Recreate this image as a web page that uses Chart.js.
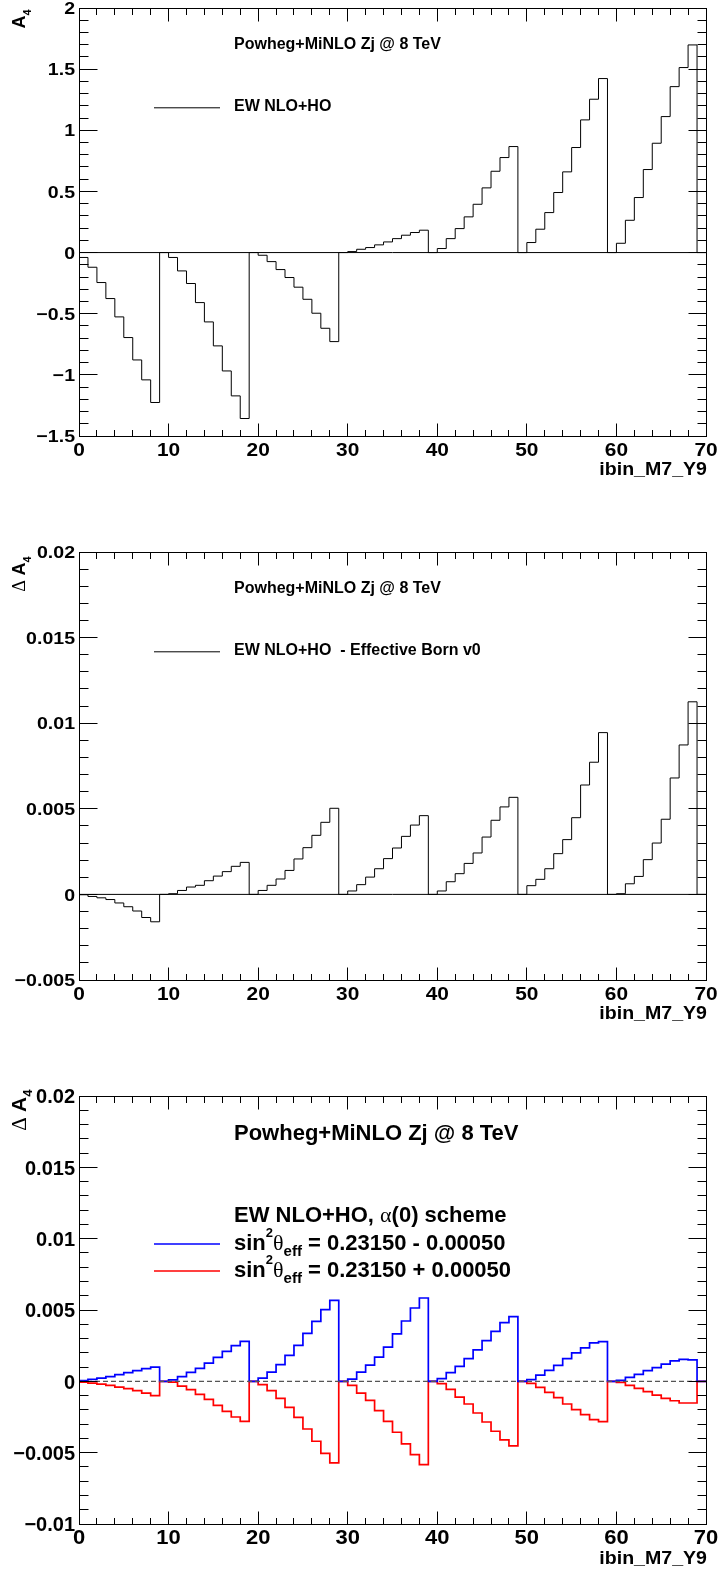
<!DOCTYPE html>
<html>
<head>
<meta charset="utf-8">
<script src="https://cdn.jsdelivr.net/npm/chart.js@4.4.1/dist/chart.umd.min.js"></script>
<style>
  html, body { margin: 0; padding: 0; background: #fff; }
  body { width: 719px; height: 1570px; position: relative; overflow: hidden; }
  .pad { position: absolute; left: 0; width: 719px; height: 482px; }
</style>
</head>
<body>
<div class="pad" style="top:0"><canvas id="pad1" width="719" height="482"></canvas></div>
<div class="pad" style="top:544px"><canvas id="pad2" width="719" height="482"></canvas></div>
<div class="pad" style="top:1088px"><canvas id="pad3" width="719" height="482"></canvas></div>
<script>
// 70 bins: 7 mass bins x 10 rapidity bins, last rapidity bin of each mass bin is empty
const xTicks = [0, 10, 20, 30, 40, 50, 60, 70];

// A4, EW NLO+HO
const a4Nominal = [
  -0.040, -0.120, -0.245, -0.376, -0.526, -0.695, -0.878, -1.041, -1.226, 0,
  -0.040, -0.150, -0.253, -0.409, -0.567, -0.763, -0.968, -1.172, -1.357, 0,
  -0.022, -0.074, -0.139, -0.204, -0.283, -0.382, -0.496, -0.619, -0.728, 0,
   0.008,  0.027,  0.041,  0.063,  0.087,  0.114,  0.142,  0.164,  0.183, 0,
   0.033,  0.114,  0.196,  0.292,  0.395,  0.529,  0.665,  0.777,  0.867, 0,
   0.082,  0.191,  0.327,  0.491,  0.660,  0.859,  1.085,  1.254,  1.423, 0,
   0.076,  0.264,  0.450,  0.679,  0.894,  1.112,  1.357,  1.513,  1.698, 0
];
const a4Ticks = [-1.5, -1, -0.5, 0, 0.5, 1, 1.5, 2];

// EW NLO+HO minus effective Born v0
const dA4Born = [
  -0.00002, -0.00012, -0.00020, -0.00030, -0.00050, -0.00072, -0.00097, -0.00135, -0.00160, 0,
   0.00004,  0.00023,  0.00043,  0.00053,  0.00080,  0.00107,  0.00133,  0.00164,  0.00187, 0,
   0.00023,  0.00053,  0.00090,  0.00140,  0.00207,  0.00273,  0.00345,  0.00421,  0.00503, 0,
   0.00020,  0.00057,  0.00101,  0.00150,  0.00209,  0.00271,  0.00339,  0.00405,  0.00460, 0,
   0.00020,  0.00074,  0.00121,  0.00181,  0.00242,  0.00335,  0.00433,  0.00511,  0.00567, 0,
   0.00051,  0.00088,  0.00150,  0.00238,  0.00320,  0.00448,  0.00639,  0.00772,  0.00945, 0,
   0.00004,  0.00062,  0.00105,  0.00203,  0.00300,  0.00439,  0.00680,  0.00873,  0.01125, 0
];
const dA4BornTicks = [-0.005, 0, 0.005, 0.01, 0.015, 0.02];

// sin2theta_eff shifted by -/+ 0.0005, alpha(0) scheme
const dA4SinMinus = [
  0.00005, 0.00014, 0.00023, 0.00033, 0.00047, 0.00061, 0.00075, 0.00089, 0.00100, 0,
  0.00010, 0.00033, 0.00063, 0.00091, 0.00128, 0.00168, 0.00210, 0.00250, 0.00280, 0,
  0.00023, 0.00065, 0.00117, 0.00182, 0.00252, 0.00336, 0.00420, 0.00502, 0.00568, 0,
  0.00016, 0.00065, 0.00114, 0.00170, 0.00240, 0.00332, 0.00423, 0.00514, 0.00584, 0,
  0.00019, 0.00061, 0.00105, 0.00159, 0.00220, 0.00285, 0.00350, 0.00411, 0.00453, 0,
  0.00012, 0.00044, 0.00077, 0.00112, 0.00159, 0.00199, 0.00234, 0.00269, 0.00278, 0,
  0.00007, 0.00028, 0.00049, 0.00075, 0.00096, 0.00121, 0.00143, 0.00154, 0.00150, 0
];
const dA4SinPlus = [
  -0.00005, -0.00012, -0.00020, -0.00028, -0.00040, -0.00051, -0.00065, -0.00082, -0.00100, 0,
  -0.00005, -0.00033, -0.00058, -0.00091, -0.00126, -0.00168, -0.00210, -0.00250, -0.00280, 0,
  -0.00023, -0.00065, -0.00119, -0.00182, -0.00252, -0.00334, -0.00420, -0.00505, -0.00572, 0,
  -0.00028, -0.00082, -0.00133, -0.00206, -0.00280, -0.00357, -0.00439, -0.00514, -0.00584, 0,
  -0.00016, -0.00056, -0.00110, -0.00159, -0.00222, -0.00285, -0.00350, -0.00411, -0.00453, 0,
  -0.00014, -0.00042, -0.00077, -0.00114, -0.00159, -0.00199, -0.00234, -0.00269, -0.00283, 0,
  -0.00007, -0.00028, -0.00049, -0.00072, -0.00096, -0.00119, -0.00136, -0.00152, -0.00152, 0
];
const dA4SinTicks = [-0.01, -0.005, 0, 0.005, 0.01, 0.015, 0.02];

const BOLD = px => `bold ${px}px "Liberation Sans", Arial, Helvetica, sans-serif`;
const GREEK = px => `${px}px "Liberation Serif", "DejaVu Serif", serif`;

// left bin edges + closing point at the upper edge, drawn as step-before
function histPoints(vals) {
  const pts = vals.map((v, i) => ({ x: i, y: v }));
  pts.push({ x: vals.length, y: vals[vals.length - 1] });
  return pts;
}

function fmt(v) {
  return String(parseFloat(v.toFixed(4))).replace('-', '\u2212');
}

function partsWidth(ctx, parts) {
  let w = 0;
  for (const p of parts) { ctx.font = p.font; w += ctx.measureText(p.t).width; }
  return w;
}
function drawParts(ctx, parts, x, y) {
  let cx = x;
  for (const p of parts) {
    ctx.font = p.font;
    ctx.fillText(p.t, cx, y + (p.dy || 0));
    cx += ctx.measureText(p.t).width;
  }
}
// axis labels come out a little wider than the font's own proportions
function wideText(ctx, text, x, y, sx) {
  ctx.save();
  ctx.translate(x, y);
  ctx.scale(sx, 1);
  ctx.fillText(text, 0, 0);
  ctx.restore();
}

// frame, inward ticks on all four sides, labels, titles and legend
const rootPad = {
  id: 'rootPad',
  afterDatasetsDraw(chart, args, o) {
    const { ctx, chartArea: a, scales: { x, y } } = chart;
    const crisp = v => Math.floor(v) + 0.5;
    const L = crisp(a.left), R = crisp(a.right), T = crisp(a.top), B = crisp(a.bottom);
    ctx.save();

    const y0 = y.getPixelForValue(0);
    ctx.strokeStyle = o.zeroColor;
    ctx.lineWidth = o.zeroWidth;
    ctx.setLineDash(o.zeroDash);
    ctx.beginPath(); ctx.moveTo(a.left, y0); ctx.lineTo(a.right, y0); ctx.stroke();
    ctx.setLineDash([]);

    ctx.strokeStyle = '#000';
    ctx.lineWidth = 1;
    ctx.strokeRect(L, T, R - L, B - T);

    ctx.beginPath();
    const xt = x.ticks.map(t => t.value);
    const xs = (xt[1] - xt[0]) / 5;
    for (const m of xt) for (let k = 0; k < 5; k++) {
      const v = m + k * xs;
      if (v > x.max + 1e-9) break;
      const px = crisp(x.getPixelForValue(v)), len = k ? 6.5 : 13;
      ctx.moveTo(px, B); ctx.lineTo(px, B - len);
      ctx.moveTo(px, T); ctx.lineTo(px, T + len);
    }
    const yt = y.ticks.map(t => t.value);
    const ys = (yt[1] - yt[0]) / 5;
    for (const m of yt) for (let k = 0; k < 5; k++) {
      const v = m + k * ys;
      if (v > y.max + 1e-12) break;
      const py = crisp(y.getPixelForValue(v)), len = k ? 9 : 18;
      ctx.moveTo(L, py); ctx.lineTo(L + len, py);
      ctx.moveTo(R, py); ctx.lineTo(R - len, py);
    }
    ctx.stroke();

    ctx.fillStyle = '#000';
    ctx.textBaseline = 'alphabetic';
    ctx.textAlign = 'center';
    ctx.font = BOLD(o.xLabelSize);
    for (const t of x.ticks) wideText(ctx, fmt(t.value), x.getPixelForValue(t.value), a.bottom + o.xLabelDy, o.xLabelSx);
    ctx.textAlign = 'right';
    ctx.font = BOLD(o.yLabelSize);
    for (const t of y.ticks) wideText(ctx, fmt(t.value), a.left - 4, y.getPixelForValue(t.value) + 0.36 * o.yLabelSize, o.yLabelSx);

    ctx.font = BOLD(o.xTitleSize);
    wideText(ctx, o.xTitle, a.right + 1, a.bottom + o.xTitleDy, 1.03);

    // axis title along y, right-aligned at the top end
    ctx.textAlign = 'left';
    ctx.save();
    ctx.translate(o.yTitleX, a.top + o.yTitleEnd);
    ctx.rotate(-Math.PI / 2);
    drawParts(ctx, o.yTitle, -partsWidth(ctx, o.yTitle), 0);
    ctx.restore();

    drawParts(ctx, o.title, o.textX, a.top + o.titleDy);
    for (const row of o.legend) {
      if (row.color) {
        ctx.strokeStyle = row.color;
        ctx.lineWidth = row.width;
        ctx.beginPath();
        ctx.moveTo(154, a.top + row.lineDy);
        ctx.lineTo(220, a.top + row.lineDy);
        ctx.stroke();
      }
      drawParts(ctx, row.parts, o.textX, a.top + row.textDy);
    }
    ctx.restore();
  }
};

function makePad(id, series, yMin, yMax, yTicks, style) {
  return new Chart(document.getElementById(id), {
    type: 'line',
    data: {
      datasets: series.map(s => ({
        data: histPoints(s.values),
        borderColor: s.color,
        borderWidth: s.width,
        stepped: 'before',
        pointRadius: 0,
        fill: false,
        tension: 0
      }))
    },
    options: {
      responsive: false,
      animation: false,
      events: [],
      layout: { padding: { top: 8, right: 13, left: 0, bottom: 0 } },
      plugins: { legend: { display: false }, tooltip: { enabled: false }, rootPad: style },
      scales: {
        x: {
          type: 'linear', min: 0, max: 70,
          grid: { display: false }, border: { display: false }, ticks: { display: false },
          afterBuildTicks: s => { s.ticks = xTicks.map(v => ({ value: v })); },
          afterFit: s => { s.height = 46; }
        },
        y: {
          type: 'linear', min: yMin, max: yMax,
          grid: { display: false }, border: { display: false }, ticks: { display: false },
          afterBuildTicks: s => { s.ticks = yTicks.map(v => ({ value: v })); },
          afterFit: s => { s.width = 79; }
        }
      }
    },
    plugins: [rootPad]
  });
}

const smallTitle = [{ t: 'Powheg+MiNLO Zj @ 8 TeV', font: BOLD(16) }];
const common = {
  xTitle: 'ibin_M7_Y9', textX: 234,
  zeroColor: '#000', zeroWidth: 1, zeroDash: [],
  xLabelSize: 19, xLabelSx: 1.1, xLabelDy: 19.5,
  yLabelSize: 17, yLabelSx: 1.15,
  xTitleSize: 19, xTitleDy: 38.5,
  yTitleX: 25, titleDy: 40.8
};

makePad('pad1', [{ values: a4Nominal, color: '#000', width: 1 }], -1.5, 2, a4Ticks, Object.assign({}, common, {
  yTitle: [{ t: 'A', font: BOLD(18) }, { t: '4', font: BOLD(11), dy: 6 }],
  yTitleEnd: 1.5,
  title: smallTitle,
  legend: [{ color: '#000', width: 1, lineDy: 99.8, textDy: 103.2, parts: [{ t: 'EW NLO+HO', font: BOLD(16) }] }]
}));

makePad('pad2', [{ values: dA4Born, color: '#000', width: 1 }], -0.005, 0.02, dA4BornTicks, Object.assign({}, common, {
  yTitle: [{ t: '\u0394 ', font: GREEK(18) }, { t: 'A', font: BOLD(18) }, { t: '4', font: BOLD(11), dy: 6 }],
  yTitleEnd: 4.5,
  title: smallTitle,
  legend: [{ color: '#000', width: 1, lineDy: 99.8, textDy: 103.2, parts: [{ t: 'EW NLO+HO  - Effective Born v0', font: BOLD(16) }] }]
}));

const sinParts = tail => [
  { t: 'sin', font: BOLD(22) }, { t: '2', font: BOLD(13), dy: -13 },
  { t: '\u03b8', font: GREEK(22) }, { t: 'eff', font: BOLD(15), dy: 6 },
  { t: tail, font: BOLD(22) }
];

makePad('pad3', [
  { values: dA4SinMinus, color: '#0000ff', width: 1.7 },
  { values: dA4SinPlus, color: '#ff0000', width: 1.7 }
], -0.01, 0.02, dA4SinTicks, Object.assign({}, common, {
  zeroColor: '#555', zeroWidth: 1.3, zeroDash: [5, 3],
  xLabelSize: 20, xLabelDy: 20, yLabelSize: 20, yLabelSx: 1.0, xTitleDy: 40,
  yTitle: [{ t: '\u0394 ', font: GREEK(21) }, { t: 'A', font: BOLD(21) }, { t: '4', font: BOLD(13), dy: 6 }],
  yTitleX: 26, yTitleEnd: -6.5,
  title: [{ t: 'Powheg+MiNLO Zj @ 8 TeV', font: BOLD(22) }],
  titleDy: 44,
  legend: [
    { color: null, textDy: 125.7, parts: [{ t: 'EW NLO+HO, ', font: BOLD(22) }, { t: '\u03b1', font: GREEK(22) }, { t: '(0) scheme', font: BOLD(22) }] },
    { color: '#0000ff', width: 1.3, lineDy: 148, textDy: 154, parts: sinParts(' = 0.23150 - 0.00050') },
    { color: '#ff0000', width: 1.3, lineDy: 175, textDy: 181, parts: sinParts(' = 0.23150 + 0.00050') }
  ]
}));
</script>
</body>
</html>
